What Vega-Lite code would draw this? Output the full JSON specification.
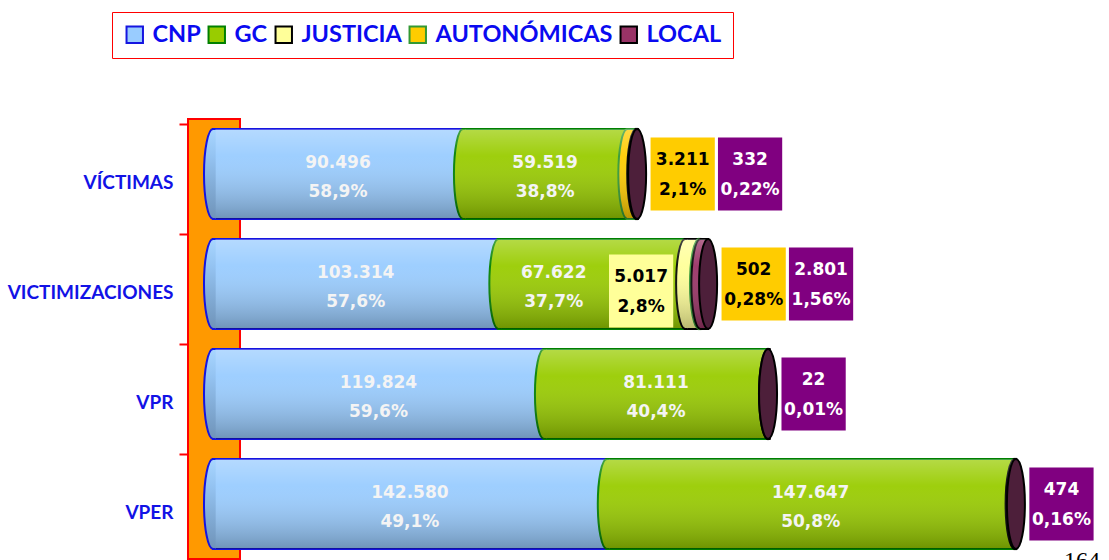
{
  "$schema": "https://vega.github.io/schema/vega-lite/v6.json",
  "width": 912,
  "height": 440,
  "autosize": {"type": "none"},
  "padding": {"left": 188, "top": 119, "right": 9, "bottom": 1},
  "background": "white",
  "title": {"text": "164", "orient": "bottom", "anchor": "end", "offset": -11, "font": "Liberation Serif", "fontSize": 24, "fontWeight": "normal", "color": "#000000"},
  "config": {
    "view": {"stroke": null},
    "locale": {"number": {"decimal": ",", "thousands": ".", "grouping": [3], "currency": ["", " €"]}}
  },
  "data": {"values": [
    {"cat": "VÍCTIMAS", "series": "CNP", "value": 90496, "pct": "58,9%"},
    {"cat": "VÍCTIMAS", "series": "GC", "value": 59519, "pct": "38,8%"},
    {"cat": "VÍCTIMAS", "series": "AUTONÓMICAS", "value": 3211, "pct": "2,1%"},
    {"cat": "VÍCTIMAS", "series": "LOCAL", "value": 332, "pct": "0,22%"},
    {"cat": "VICTIMIZACIONES", "series": "CNP", "value": 103314, "pct": "57,6%"},
    {"cat": "VICTIMIZACIONES", "series": "GC", "value": 67622, "pct": "37,7%"},
    {"cat": "VICTIMIZACIONES", "series": "JUSTICIA", "value": 5017, "pct": "2,8%"},
    {"cat": "VICTIMIZACIONES", "series": "AUTONÓMICAS", "value": 502, "pct": "0,28%"},
    {"cat": "VICTIMIZACIONES", "series": "LOCAL", "value": 2801, "pct": "1,56%"},
    {"cat": "VPR", "series": "CNP", "value": 119824, "pct": "59,6%"},
    {"cat": "VPR", "series": "GC", "value": 81111, "pct": "40,4%"},
    {"cat": "VPR", "series": "LOCAL", "value": 22, "pct": "0,01%"},
    {"cat": "VPER", "series": "CNP", "value": 142580, "pct": "49,1%"},
    {"cat": "VPER", "series": "GC", "value": 147647, "pct": "50,8%"},
    {"cat": "VPER", "series": "LOCAL", "value": 474, "pct": "0,16%"}
  ]},
  "transform": [
    {"calculate": "indexof(['CNP','GC','JUSTICIA','AUTONÓMICAS','LOCAL'], datum.series)", "as": "ord"},
    {"stack": "value", "groupby": ["cat"], "sort": [{"field": "ord", "order": "ascending"}], "as": ["v0", "v1"]},
    {"joinaggregate": [{"op": "sum", "field": "value", "as": "total"}], "groupby": ["cat"]},
    {"calculate": "datum.ord === 2 ? datum.v0 : 0", "as": "jv0"},
    {"joinaggregate": [{"op": "max", "field": "jv0", "as": "jstart"}], "groupby": ["cat"]},
    {"calculate": "datum.ord === 1 && datum.jstart > 0 ? (datum.v0 + datum.jstart - 27530) / 2 : (datum.v0 + datum.v1) / 2", "as": "mid"}
  ],
  "layer": [
    {
      "transform": [{"filter": "datum.cat === 'VPER' && datum.ord === 0"}],
      "mark": {"type": "rect", "fill": "#FF9900", "stroke": "#FF0000", "strokeWidth": 2},
      "encoding": {
        "x": {"datum": -9050, "type": "quantitative", "scale": {"domain": [-9050, 321150], "nice": false, "zero": false}, "axis": null},
        "x2": {"datum": 9775}
      }
    },
    {
      "mark": {"type": "bar", "strokeWidth": 2, "opacity": 1},
      "encoding": {
        "x": {"field": "v0", "type": "quantitative", "scale": {"domain": [-9050, 321150], "nice": false, "zero": false}, "axis": null},
        "x2": {"field": "v1"},
        "y": {
          "field": "cat", "type": "nominal",
          "sort": ["VÍCTIMAS", "VICTIMIZACIONES", "VPR", "VPER"],
          "scale": {"paddingInner": 0.18, "paddingOuter": 0.09},
          "axis": {
            "title": null, "domain": false, "grid": false,
            "ticks": true, "tickColor": "#FF0000", "tickWidth": 2, "tickSize": 9,
            "bandPosition": -0.045, "labelOffset": 9,
            "labelFont": "Lato", "labelFontSize": 19, "labelFontWeight": "bold", "labelColor": "#1212E6",
            "labelPadding": 6
          }
        },
        "color": {
          "field": "series", "type": "nominal",
          "scale": {"domain": ["CNP", "GC", "JUSTICIA", "AUTONÓMICAS", "LOCAL"], "range": ["#99CCFF", "#99CC00", "#FFFF99", "#FFCC00", "#993366"]},
          "legend": {
            "orient": "none", "legendX": -76, "legendY": -107, "direction": "horizontal", "title": null,
            "strokeColor": "#FF0000", "fillColor": "#FFFFFF", "padding": 11,
            "symbolType": "square", "symbolSize": 270, "symbolStrokeWidth": 2, "symbolOpacity": 1,
            "labelFont": "Lato", "labelFontSize": 23.5, "labelFontWeight": "bold", "labelColor": "#0A0AF0",
            "labelOffset": 6, "columnPadding": 3, "labelLimit": 300
          }
        },
        "stroke": {
          "field": "series", "type": "nominal",
          "scale": {"domain": ["CNP", "GC", "JUSTICIA", "AUTONÓMICAS", "LOCAL"], "range": ["#1515E0", "#008000", "#000000", "#339933", "#000000"]},
          "legend": {
            "orient": "none", "legendX": -76, "legendY": -107, "direction": "horizontal", "title": null,
            "strokeColor": "#FF0000", "fillColor": "#FFFFFF", "padding": 11,
            "symbolType": "square", "symbolSize": 270, "symbolStrokeWidth": 2, "symbolOpacity": 1,
            "labelFont": "Lato", "labelFontSize": 23.5, "labelFontWeight": "bold", "labelColor": "#0A0AF0",
            "labelOffset": 6, "columnPadding": 3, "labelLimit": 300
          }
        }
      }
    },
    {
      "transform": [{"filter": "datum.ord >= 1"}],
      "mark": {"type": "point", "shape": "M 0.06 -1 L 0 -1 A 0.2 1 0 0 0 0 1 L 0.06 1", "size": 8100, "filled": true, "opacity": 1, "strokeWidth": 2},
      "encoding": {
        "x": {"field": "v0", "type": "quantitative"},
        "y": {"field": "cat", "type": "nominal", "sort": ["VÍCTIMAS", "VICTIMIZACIONES", "VPR", "VPER"]},
        "color": {"field": "series", "type": "nominal"},
        "stroke": {"field": "series", "type": "nominal"}
      }
    },
    {
      "mark": {"type": "bar", "strokeWidth": 0, "fill": {"gradient": "linear", "x1": 0, "y1": 0, "x2": 0, "y2": 1, "stops": [{"offset": 0, "color": "rgba(255,255,255,0.28)"}, {"offset": 0.3, "color": "rgba(255,255,255,0.05)"}, {"offset": 1, "color": "rgba(0,0,0,0.28)"}]}},
      "encoding": {
        "x": {"field": "v0", "type": "quantitative"},
        "x2": {"field": "v1"},
        "y": {"field": "cat", "type": "nominal", "sort": ["VÍCTIMAS", "VICTIMIZACIONES", "VPR", "VPER"]}
      }
    },
    {
      "transform": [{"filter": "datum.ord === 0"}],
      "mark": {"type": "point", "shape": "M 0.06 -1 L 0 -1 A 0.2 1 0 0 0 0 1 L 0.06 1", "size": 8100, "filled": true, "opacity": 1, "strokeWidth": 2, "stroke": "#1515E0",
        "fill": {"gradient": "linear", "x1": 0, "y1": 0, "x2": 0, "y2": 1, "stops": [{"offset": 0, "color": "#A8D6FF"}, {"offset": 0.3, "color": "#94C3F2"}, {"offset": 1, "color": "#6F93B8"}]}},
      "encoding": {
        "x": {"field": "v0", "type": "quantitative"},
        "y": {"field": "cat", "type": "nominal", "sort": ["VÍCTIMAS", "VICTIMIZACIONES", "VPR", "VPER"]}
      }
    },
    {
      "transform": [{"filter": "datum.v1 === datum.total"}],
      "mark": {"type": "point", "shape": "M 0 -1 A 0.2 1 0 1 1 0 1 A 0.2 1 0 1 1 0 -1 Z", "size": 8100, "filled": true, "opacity": 1, "fill": "#4D1F3A", "stroke": "#000000", "strokeWidth": 2},
      "encoding": {
        "x": {"field": "total", "type": "quantitative"},
        "y": {"field": "cat", "type": "nominal", "sort": ["VÍCTIMAS", "VICTIMIZACIONES", "VPR", "VPER"]}
      }
    },
    {
      "transform": [{"filter": "datum.ord <= 1"}],
      "layer": [
        {
          "mark": {"type": "text", "font": "DejaVu Sans", "fontSize": 17, "fontWeight": "bold", "color": "#F4F4F4", "dy": -11, "baseline": "middle"},
          "encoding": {
            "x": {"field": "mid", "type": "quantitative"},
            "y": {"field": "cat", "type": "nominal", "sort": ["VÍCTIMAS", "VICTIMIZACIONES", "VPR", "VPER"]},
            "text": {"field": "value", "type": "quantitative", "format": ",d"}
          }
        },
        {
          "mark": {"type": "text", "font": "DejaVu Sans", "fontSize": 17, "fontWeight": "bold", "color": "#F4F4F4", "dy": 18, "baseline": "middle"},
          "encoding": {
            "x": {"field": "mid", "type": "quantitative"},
            "y": {"field": "cat", "type": "nominal", "sort": ["VÍCTIMAS", "VICTIMIZACIONES", "VPR", "VPER"]},
            "text": {"field": "pct", "type": "nominal"}
          }
        }
      ]
    },
    {
      "transform": [{"filter": "datum.ord === 2"}, {"calculate": "datum.v0 - 15930", "as": "lx"}],
      "layer": [
        {
          "mark": {"type": "point", "shape": "M -0.88 -1 L 0.88 -1 L 0.88 1 L -0.88 1 Z", "size": 5329, "filled": true, "opacity": 1, "strokeWidth": 0, "fill": "#FFFF99", "yOffset": 7},
          "encoding": {
            "x": {"field": "lx", "type": "quantitative"},
            "y": {"field": "cat", "type": "nominal", "sort": ["VÍCTIMAS", "VICTIMIZACIONES", "VPR", "VPER"]}
          }
        },
        {
          "mark": {"type": "text", "font": "DejaVu Sans", "fontSize": 17, "fontWeight": "bold", "color": "#000000", "dy": -14, "baseline": "middle", "yOffset": 7},
          "encoding": {
            "x": {"field": "lx", "type": "quantitative"},
            "y": {"field": "cat", "type": "nominal", "sort": ["VÍCTIMAS", "VICTIMIZACIONES", "VPR", "VPER"]},
            "text": {"field": "value", "type": "quantitative", "format": ",d"}
          }
        },
        {
          "mark": {"type": "text", "font": "DejaVu Sans", "fontSize": 17, "fontWeight": "bold", "color": "#000000", "dy": 16, "baseline": "middle", "yOffset": 7},
          "encoding": {
            "x": {"field": "lx", "type": "quantitative"},
            "y": {"field": "cat", "type": "nominal", "sort": ["VÍCTIMAS", "VICTIMIZACIONES", "VPR", "VPER"]},
            "text": {"field": "pct", "type": "nominal"}
          }
        }
      ]
    },
    {
      "transform": [
        {"filter": "datum.ord >= 3"},
        {"window": [{"op": "row_number", "as": "slot"}], "groupby": ["cat"], "sort": [{"field": "ord", "order": "ascending"}]},
        {"calculate": "datum.total + (datum.slot === 1 ? 16500 : 40900)", "as": "lx"}
      ],
      "layer": [
        {
          "mark": {"type": "point", "shape": "M -0.88 -1 L 0.88 -1 L 0.88 1 L -0.88 1 Z", "size": 5329, "filled": true, "opacity": 1, "strokeWidth": 0},
          "encoding": {
            "x": {"field": "lx", "type": "quantitative"},
            "y": {"field": "cat", "type": "nominal", "sort": ["VÍCTIMAS", "VICTIMIZACIONES", "VPR", "VPER"]},
            "fill": {"condition": {"test": "datum.series === 'LOCAL'", "value": "#800080"}, "value": "#FFCC00"}
          }
        },
        {
          "mark": {"type": "text", "font": "DejaVu Sans", "fontSize": 17, "fontWeight": "bold", "dy": -14, "baseline": "middle"},
          "encoding": {
            "x": {"field": "lx", "type": "quantitative"},
            "y": {"field": "cat", "type": "nominal", "sort": ["VÍCTIMAS", "VICTIMIZACIONES", "VPR", "VPER"]},
            "text": {"field": "value", "type": "quantitative", "format": ",d"},
            "fill": {"condition": {"test": "datum.series === 'LOCAL'", "value": "#FFFFFF"}, "value": "#000000"}
          }
        },
        {
          "mark": {"type": "text", "font": "DejaVu Sans", "fontSize": 17, "fontWeight": "bold", "dy": 16, "baseline": "middle"},
          "encoding": {
            "x": {"field": "lx", "type": "quantitative"},
            "y": {"field": "cat", "type": "nominal", "sort": ["VÍCTIMAS", "VICTIMIZACIONES", "VPR", "VPER"]},
            "text": {"field": "pct", "type": "nominal"},
            "fill": {"condition": {"test": "datum.series === 'LOCAL'", "value": "#FFFFFF"}, "value": "#000000"}
          }
        }
      ]
    }
  ]
}
